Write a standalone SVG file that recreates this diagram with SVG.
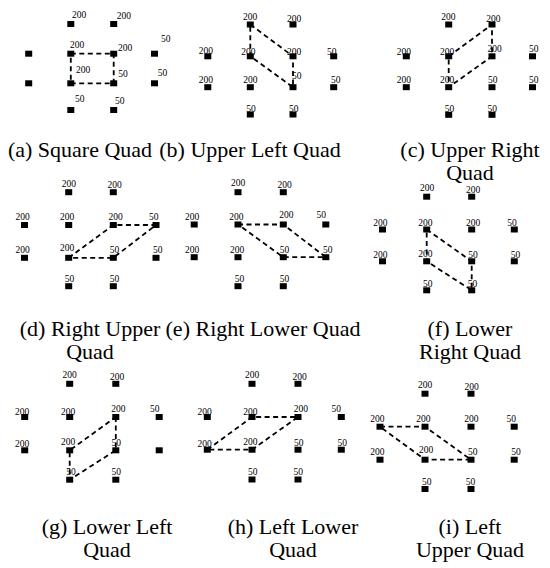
<svg xmlns="http://www.w3.org/2000/svg" width="550" height="568" viewBox="0 0 550 568" font-family="'Liberation Serif', 'Times New Roman', Times, 'DejaVu Serif', serif">
<style>
.sq{fill:#000}
text{font-family:'Liberation Serif','Times New Roman',Times,'DejaVu Serif',serif;fill:#000}
.l{font-size:9.5px;text-anchor:middle}
.la{font-size:9.5px}
.cap{font-size:22px;text-anchor:middle}
.d{fill:none;stroke:#000;stroke-width:1.8;stroke-dasharray:5 3.5}
</style>
<rect width="550" height="568" fill="#fff"/>
<defs><rect id="s" x="-3.5" y="-3" width="7" height="6"/></defs>

<!-- (a) -->
<g id="a">
<g id="a1"><use href="#s" x="28.7" y="53.7" class="sq"/></g>
<g id="a2"><use href="#s" x="28.7" y="83.3" class="sq"/></g>
<g id="a3"><use href="#s" x="70.8" y="24" class="sq"/><text class="la" x="72" y="18">200</text></g>
<g id="a4"><use href="#s" x="113.7" y="24" class="sq"/><text class="la" x="116.7" y="18.7">200</text></g>
<g id="a5"><use href="#s" x="70.8" y="53.7" class="sq"/><text class="la" x="70" y="47.7">200</text></g>
<g id="a6"><use href="#s" x="113.7" y="53.7" class="sq"/><text class="la" x="118" y="50.7">200</text></g>
<g id="a7"><use href="#s" x="154.5" y="53.7" class="sq"/><text class="la" x="161" y="41.7">50</text></g>
<g id="a8"><use href="#s" x="70.8" y="83.3" class="sq"/><text class="la" x="76" y="73.3">200</text></g>
<g id="a9"><use href="#s" x="113.7" y="83.3" class="sq"/><text class="la" x="118.3" y="76.7">50</text></g>
<g id="a10"><use href="#s" x="154.5" y="83.3" class="sq"/><text class="la" x="157.7" y="75.7">50</text></g>
<g id="a11"><use href="#s" x="70.8" y="110" class="sq"/><text class="la" x="75" y="101.7">50</text></g>
<g id="a12"><use href="#s" x="113.7" y="110" class="sq"/><text class="la" x="115" y="104.3">50</text></g>
</g>

<!-- (b) -->
<g id="b">
<g id="b1"><use href="#s" x="250.3" y="24.5" class="sq"/><text class="l" x="250" y="20">200</text></g>
<g id="b2"><use href="#s" x="293" y="24.5" class="sq"/><text class="l" x="294" y="21.7">200</text></g>
<g id="b3"><use href="#s" x="207.8" y="56.3" class="sq"/><text class="l" x="205.8" y="54.3">200</text></g>
<g id="b4"><use href="#s" x="250.3" y="56.3" class="sq"/><text class="l" x="248.3" y="55">200</text></g>
<g id="b5"><use href="#s" x="293" y="56.3" class="sq"/><text class="l" x="294" y="55">200</text></g>
<g id="b6"><use href="#s" x="333.7" y="56.3" class="sq"/><text class="l" x="331.7" y="55">50</text></g>
<g id="b7"><use href="#s" x="207.8" y="87.2" class="sq"/><text class="l" x="205.8" y="83.3">200</text></g>
<g id="b8"><use href="#s" x="250.3" y="87.2" class="sq"/><text class="l" x="250.3" y="83.3">200</text></g>
<g id="b9"><use href="#s" x="293" y="87.2" class="sq"/><text class="l" x="296.7" y="79.3">50</text></g>
<g id="b10"><use href="#s" x="333.7" y="87.2" class="sq"/><text class="l" x="335.7" y="83.3">50</text></g>
<g id="b11"><use href="#s" x="250.3" y="114.5" class="sq"/><text class="l" x="251" y="111.7">50</text></g>
<g id="b12"><use href="#s" x="293" y="114.5" class="sq"/><text class="l" x="293.8" y="111.7">50</text></g>
</g>

<!-- (c) -->
<g id="c">
<g id="c1"><use href="#s" x="448.7" y="24.5" class="sq"/><text class="l" x="448.3" y="20">200</text></g>
<g id="c2"><use href="#s" x="492" y="24.5" class="sq"/><text class="l" x="493.3" y="21.7">200</text></g>
<g id="c3"><use href="#s" x="406.3" y="56.3" class="sq"/><text class="l" x="403.8" y="55">200</text></g>
<g id="c4"><use href="#s" x="448.7" y="56.3" class="sq"/><text class="l" x="447" y="55">200</text></g>
<g id="c5"><use href="#s" x="492" y="56.3" class="sq"/><text class="l" x="494.5" y="52">200</text></g>
<g id="c6"><use href="#s" x="532.5" y="56.3" class="sq"/><text class="l" x="533.8" y="52">50</text></g>
<g id="c7"><use href="#s" x="406.3" y="87.2" class="sq"/><text class="l" x="403.8" y="83.3">200</text></g>
<g id="c8"><use href="#s" x="448.7" y="87.2" class="sq"/><text class="l" x="447" y="82.7">200</text></g>
<g id="c9"><use href="#s" x="492" y="87.2" class="sq"/><text class="l" x="492.8" y="83.3">50</text></g>
<g id="c10"><use href="#s" x="532.5" y="87.2" class="sq"/><text class="l" x="533.8" y="83.3">50</text></g>
<g id="c11"><use href="#s" x="448.7" y="114.8" class="sq"/><text class="l" x="449.5" y="112">50</text></g>
<g id="c12"><use href="#s" x="492" y="114.8" class="sq"/><text class="l" x="492.2" y="112">50</text></g>
</g>

<!-- (d) -->
<g id="d">
<g id="d1"><use href="#s" x="68.7" y="192.2" class="sq"/><text class="l" x="68.8" y="186.7">200</text></g>
<g id="d2"><use href="#s" x="113.3" y="192.2" class="sq"/><text class="l" x="114.5" y="188.3">200</text></g>
<g id="d3"><use href="#s" x="24.5" y="225" class="sq"/><text class="l" x="22.5" y="220">200</text></g>
<g id="d4"><use href="#s" x="68.7" y="225" class="sq"/><text class="l" x="67" y="220">200</text></g>
<g id="d5"><use href="#s" x="113.3" y="225" class="sq"/><text class="l" x="115.5" y="220">200</text></g>
<g id="d6"><use href="#s" x="156" y="225" class="sq"/><text class="l" x="153.7" y="220">50</text></g>
<g id="d7"><use href="#s" x="24.5" y="257.8" class="sq"/><text class="l" x="22.5" y="253.3">200</text></g>
<g id="d8"><use href="#s" x="68.7" y="257.8" class="sq"/><text class="l" x="67" y="251">200</text></g>
<g id="d9"><use href="#s" x="113.3" y="257.8" class="sq"/><text class="l" x="114.5" y="253.3">50</text></g>
<g id="d10"><use href="#s" x="156" y="257.8" class="sq"/><text class="l" x="157.8" y="253.3">50</text></g>
<g id="d11"><use href="#s" x="68.7" y="286.2" class="sq"/><text class="l" x="69.5" y="281.7">50</text></g>
<g id="d12"><use href="#s" x="113.3" y="286.2" class="sq"/><text class="l" x="114.5" y="281.7">50</text></g>
</g>

<!-- (e) -->
<g id="e">
<g id="e1"><use href="#s" x="238" y="192.2" class="sq"/><text class="l" x="238" y="186">200</text></g>
<g id="e2"><use href="#s" x="283.3" y="192.2" class="sq"/><text class="l" x="284.5" y="188.3">200</text></g>
<g id="e3"><use href="#s" x="194.2" y="224.5" class="sq"/><text class="l" x="192" y="220">200</text></g>
<g id="e4"><use href="#s" x="238" y="224.5" class="sq"/><text class="l" x="236.3" y="220">200</text></g>
<g id="e5"><use href="#s" x="283.3" y="224.5" class="sq"/><text class="l" x="286.3" y="218.3">200</text></g>
<g id="e6"><use href="#s" x="325.8" y="224.5" class="sq"/><text class="l" x="321.3" y="218.3">50</text></g>
<g id="e7"><use href="#s" x="194.2" y="257.2" class="sq"/><text class="l" x="192" y="253.3">200</text></g>
<g id="e8"><use href="#s" x="238" y="257.2" class="sq"/><text class="l" x="237" y="252.7">200</text></g>
<g id="e9"><use href="#s" x="283.3" y="257.2" class="sq"/><text class="l" x="284.5" y="253.3">50</text></g>
<g id="e10"><use href="#s" x="325.8" y="257.2" class="sq"/><text class="l" x="327.8" y="253.3">50</text></g>
<g id="e11"><use href="#s" x="238" y="286.2" class="sq"/><text class="l" x="239.5" y="281.7">50</text></g>
<g id="e12"><use href="#s" x="283.3" y="286.2" class="sq"/><text class="l" x="284.5" y="281.7">50</text></g>
</g>

<!-- (f) -->
<g id="f">
<g id="f1"><use href="#s" x="426.7" y="196.7" class="sq"/><text class="l" x="427" y="191">200</text></g>
<g id="f2"><use href="#s" x="471.7" y="196.7" class="sq"/><text class="l" x="473" y="193.3">200</text></g>
<g id="f3"><use href="#s" x="382.5" y="229.5" class="sq"/><text class="l" x="380.3" y="226">200</text></g>
<g id="f4"><use href="#s" x="426.7" y="229.5" class="sq"/><text class="l" x="425.3" y="226">200</text></g>
<g id="f5"><use href="#s" x="471.7" y="229.5" class="sq"/><text class="l" x="473" y="226">200</text></g>
<g id="f6"><use href="#s" x="514.3" y="229.5" class="sq"/><text class="l" x="512" y="226">50</text></g>
<g id="f7"><use href="#s" x="382.5" y="261.3" class="sq"/><text class="l" x="380.3" y="258.3">200</text></g>
<g id="f8"><use href="#s" x="426.7" y="261.3" class="sq"/><text class="l" x="425.3" y="256.7">200</text></g>
<g id="f9"><use href="#s" x="471.7" y="261.3" class="sq"/><text class="l" x="473" y="258.3">50</text></g>
<g id="f10"><use href="#s" x="514.3" y="261.3" class="sq"/><text class="l" x="515.5" y="258.3">50</text></g>
<g id="f11"><use href="#s" x="426.7" y="290.3" class="sq"/><text class="l" x="427.8" y="287.3">50</text></g>
<g id="f12"><use href="#s" x="471.7" y="290.3" class="sq"/><text class="l" x="472.5" y="287.3">50</text></g>
</g>

<!-- (g) -->
<g id="g">
<g id="g1"><use href="#s" x="69.7" y="383.8" class="sq"/><text class="l" x="69.7" y="378.3">200</text></g>
<g id="g2"><use href="#s" x="115.8" y="383.8" class="sq"/><text class="l" x="117" y="380">200</text></g>
<g id="g3"><use href="#s" x="24.7" y="417" class="sq"/><text class="l" x="22.2" y="415">200</text></g>
<g id="g4"><use href="#s" x="69.7" y="417" class="sq"/><text class="l" x="68" y="415">200</text></g>
<g id="g5"><use href="#s" x="115.8" y="417" class="sq"/><text class="l" x="118.3" y="411.7">200</text></g>
<g id="g6"><use href="#s" x="159.2" y="417" class="sq"/><text class="l" x="154.7" y="411.7">50</text></g>
<g id="g7"><use href="#s" x="24.7" y="450.3" class="sq"/><text class="l" x="22.2" y="447.3">200</text></g>
<g id="g8"><use href="#s" x="69.7" y="450.3" class="sq"/><text class="l" x="68" y="445">200</text></g>
<g id="g9"><use href="#s" x="115.8" y="450.3" class="sq"/><text class="l" x="116.2" y="446">50</text></g>
<g id="g10"><use href="#s" x="159.2" y="450.3" class="sq"/></g>
<g id="g11"><use href="#s" x="69.7" y="479.7" class="sq"/><text class="l" x="71" y="475">50</text></g>
<g id="g12"><use href="#s" x="115.8" y="479.7" class="sq"/><text class="l" x="116.2" y="475">50</text></g>
</g>

<!-- (h) -->
<g id="h">
<g id="h1"><use href="#s" x="252" y="383.8" class="sq"/><text class="l" x="252.2" y="378.3">200</text></g>
<g id="h2"><use href="#s" x="298" y="383.8" class="sq"/><text class="l" x="299.7" y="380">200</text></g>
<g id="h3"><use href="#s" x="207.3" y="417" class="sq"/><text class="l" x="204.5" y="415">200</text></g>
<g id="h4"><use href="#s" x="252" y="417" class="sq"/><text class="l" x="250.3" y="415">200</text></g>
<g id="h5"><use href="#s" x="298" y="417" class="sq"/><text class="l" x="300.8" y="411.7">200</text></g>
<g id="h6"><use href="#s" x="341.3" y="417" class="sq"/><text class="l" x="336.3" y="411.7">50</text></g>
<g id="h7"><use href="#s" x="207.3" y="449.7" class="sq"/><text class="l" x="204.5" y="446.7">200</text></g>
<g id="h8"><use href="#s" x="252" y="449.7" class="sq"/><text class="l" x="250.3" y="445">200</text></g>
<g id="h9"><use href="#s" x="298" y="449.7" class="sq"/><text class="l" x="298.8" y="446">50</text></g>
<g id="h10"><use href="#s" x="341.3" y="449.7" class="sq"/><text class="l" x="342.2" y="446">50</text></g>
<g id="h11"><use href="#s" x="252" y="479.5" class="sq"/><text class="l" x="252.8" y="475">50</text></g>
<g id="h12"><use href="#s" x="298" y="479.5" class="sq"/><text class="l" x="298.3" y="475">50</text></g>
</g>

<!-- (i) -->
<g id="i">
<g id="i1"><use href="#s" x="425" y="393.7" class="sq"/><text class="l" x="425" y="388.3">200</text></g>
<g id="i2"><use href="#s" x="471" y="393.7" class="sq"/><text class="l" x="471.7" y="390">200</text></g>
<g id="i3"><use href="#s" x="380" y="426.7" class="sq"/><text class="l" x="377.3" y="422.3">200</text></g>
<g id="i4"><use href="#s" x="425" y="426.7" class="sq"/><text class="l" x="423.3" y="422.3">200</text></g>
<g id="i5"><use href="#s" x="471" y="426.7" class="sq"/><text class="l" x="471.3" y="422.3">200</text></g>
<g id="i6"><use href="#s" x="514.2" y="426.7" class="sq"/><text class="l" x="511.3" y="422.3">50</text></g>
<g id="i7"><use href="#s" x="380" y="459.7" class="sq"/><text class="l" x="377.3" y="455">200</text></g>
<g id="i8"><use href="#s" x="425" y="459.7" class="sq"/><text class="l" x="426" y="453.3">200</text></g>
<g id="i9"><use href="#s" x="471" y="459.7" class="sq"/><text class="l" x="472.8" y="455">50</text></g>
<g id="i10"><use href="#s" x="514.2" y="459.7" class="sq"/><text class="l" x="516" y="455">50</text></g>
<g id="i11"><use href="#s" x="425" y="489" class="sq"/><text class="l" x="426.8" y="485">50</text></g>
<g id="i12"><use href="#s" x="471" y="489" class="sq"/><text class="l" x="470.5" y="485">50</text></g>
</g>

<g id="connectors">
<path class="d" d="M70.8 53.7H113.7V83.3H70.8Z"/>
<path class="d" d="M250.3 24.5L293 56.3L293 87.2L250.3 56.3Z"/>
<path class="d" d="M448.7 56.3L492 24.5L492 56.3L448.7 87.2Z"/>
<path class="d" d="M68.7 257.8L113.3 225H156L113.3 257.8Z"/>
<path class="d" d="M238 224.5H283.3L325.8 257.2H283.3Z"/>
<path class="d" d="M426.7 229.5L471.7 261.3V290.3L426.7 261.3Z"/>
<path class="d" d="M115.8 417V450.3L69.7 479.7V450.3Z"/>
<path class="d" d="M207.3 449.7L252 417H298L252 449.7Z"/>
<path class="d" d="M380 426.7H425L471 459.7H425Z"/>
</g>

<g id="captions">
<text class="cap" x="80" y="157">(a) Square Quad</text>
<text class="cap" x="250" y="157">(b) Upper Left Quad</text>
<text class="cap" x="470" y="157">(c) Upper Right</text>
<text class="cap" x="470" y="180">Quad</text>
<text class="cap" x="90" y="336">(d) Right Upper</text>
<text class="cap" x="90" y="359">Quad</text>
<text class="cap" x="263" y="336">(e) Right Lower Quad</text>
<text class="cap" x="470" y="336">(f) Lower</text>
<text class="cap" x="470" y="359">Right Quad</text>
<text class="cap" x="107" y="534">(g) Lower Left</text>
<text class="cap" x="107" y="557">Quad</text>
<text class="cap" x="293" y="534">(h) Left Lower</text>
<text class="cap" x="293" y="557">Quad</text>
<text class="cap" x="470" y="534">(i) Left</text>
<text class="cap" x="470" y="557">Upper Quad</text>
</g>
</svg>
